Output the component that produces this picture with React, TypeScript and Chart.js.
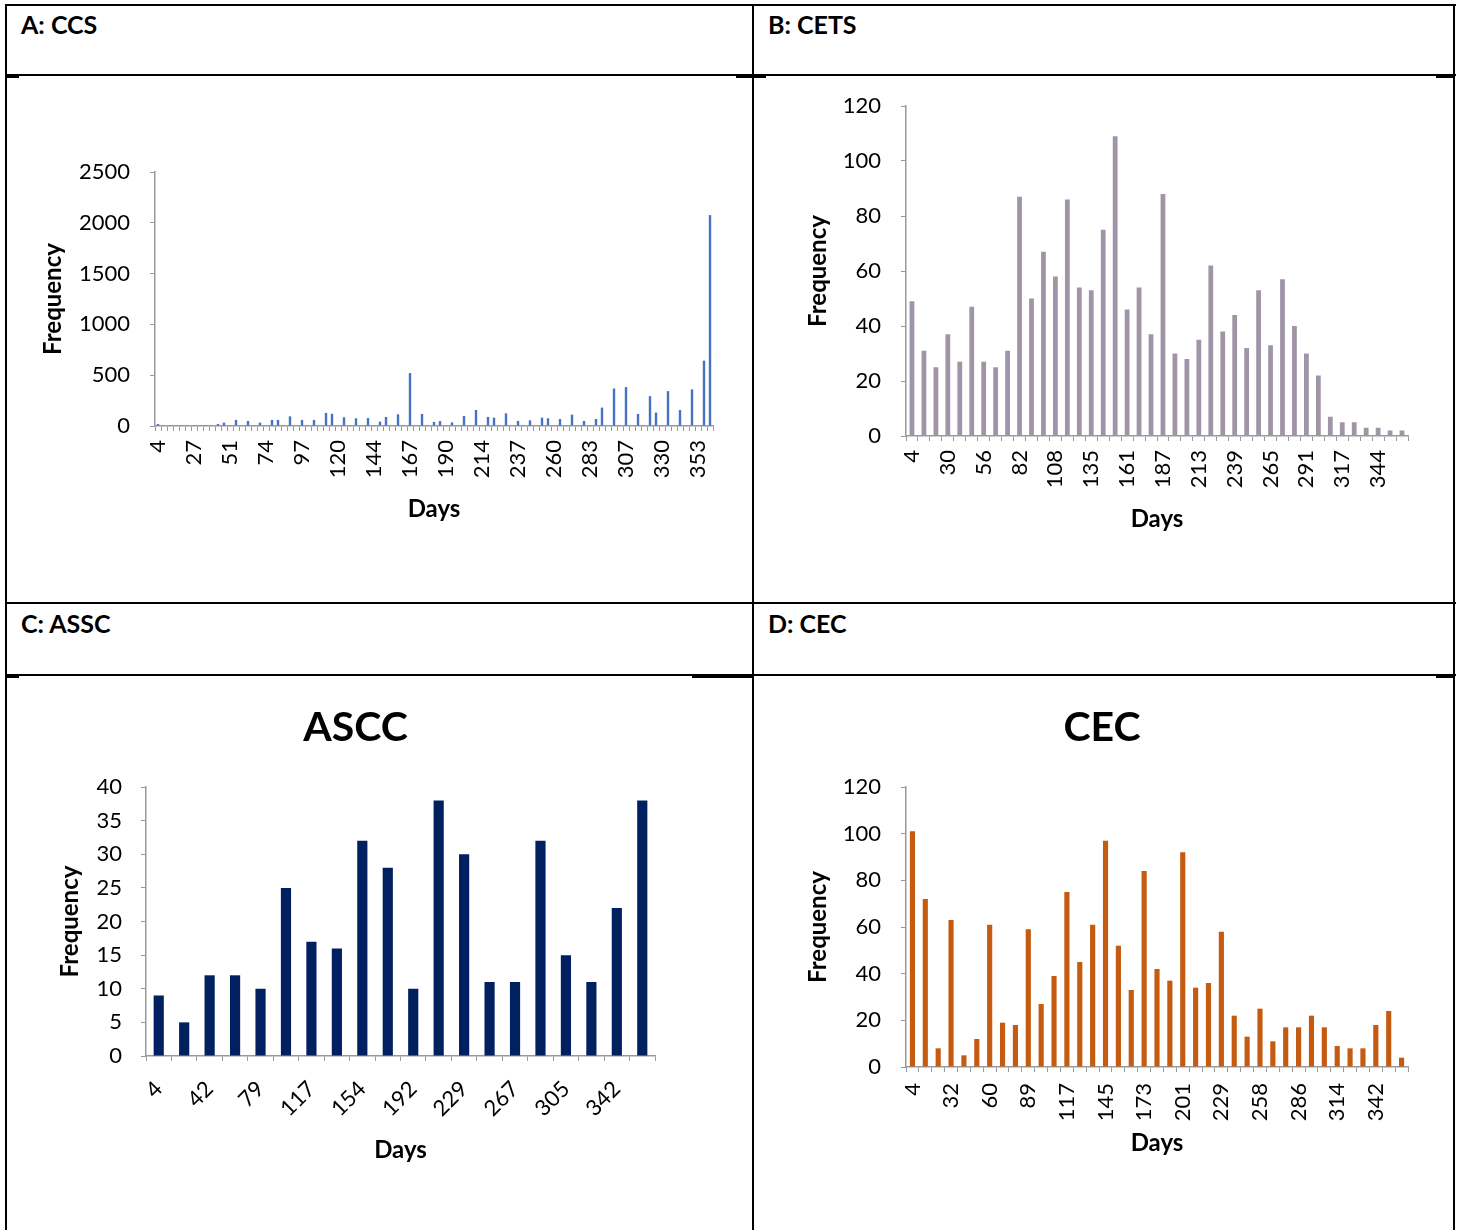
import React, { useEffect, useRef } from 'react';
import { Chart, registerables } from 'chart.js';

Chart.register(...registerables);

const FONT = 'Lato, "Open Sans", sans-serif';
const AXIS = '#999999';

// ---------- Panel A: CCS ----------
const ccsDays = [
  4, 8, 12, 16, 20, 23, 27, 31, 35, 39, 43, 47, 51, 54, 58, 62, 66, 70, 74, 78,
  82, 85, 89, 93, 97, 101, 105, 109, 113, 117, 120, 124, 128, 132, 136, 140, 144, 148, 151, 155,
  159, 163, 167, 171, 175, 179, 182, 186, 190, 194, 198, 202, 206, 210, 214, 217, 221, 225, 229, 233,
  237, 241, 245, 248, 252, 256, 260, 264, 268, 272, 276, 279, 283, 287, 291, 295, 299, 303, 307, 311,
  314, 318, 322, 326, 330, 334, 338, 342, 345, 349, 353, 357, 361,
];
const ccsFreq = [
  20, 0, 8, 0, 8, 0, 8, 0, 10, 0, 20, 33, 0, 60, 0, 50, 0, 33, 0, 60,
  60, 0, 95, 0, 60, 0, 60, 0, 129, 120, 0, 86, 0, 76, 0, 79, 0, 43, 89, 0,
  115, 0, 521, 0, 119, 0, 40, 48, 0, 36, 0, 99, 0, 158, 0, 89, 82, 0, 125, 0,
  50, 0, 56, 0, 82, 76, 0, 69, 0, 112, 0, 50, 0, 69, 181, 0, 369, 0, 383, 0,
  119, 0, 294, 132, 0, 343, 0, 158, 0, 360, 0, 643, 2076,
];

// ---------- Panel B: CETS ----------
const cetsDays = [
  4, 13, 21, 30, 39, 48, 56, 65, 74, 82, 91, 100, 108, 117, 126, 135, 143, 152, 161, 170,
  178, 187, 196, 204, 213, 222, 230, 239, 248, 256, 265, 274, 283, 291, 300, 309, 317, 326, 335, 344,
  352, 361,
];
const cetsFreq = [
  49, 31, 25, 37, 27, 47, 27, 25, 31, 87, 50, 67, 58, 86, 54, 53, 75, 109, 46, 54,
  37, 88, 30, 28, 35, 62, 38, 44, 32, 53, 33, 57, 40, 30, 22, 7, 5, 5, 3, 3,
  2, 2,
];

// ---------- Panel C: ASCC ----------
const asccDays = [4, 23, 42, 60, 79, 98, 117, 135, 154, 173, 192, 211, 229, 248, 267, 286, 305, 323, 342, 361];
const asccFreq = [9, 5, 12, 12, 10, 25, 17, 16, 32, 28, 10, 38, 30, 11, 11, 32, 15, 11, 22, 38];

// ---------- Panel D: CEC ----------
const cecDays = [
  4, 13, 23, 32, 42, 51, 60, 70, 79, 89, 98, 107, 117, 126, 135, 145, 154, 164, 173, 182,
  192, 201, 211, 220, 229, 239, 248, 258, 267, 276, 286, 295, 304, 314, 323, 333, 342, 351, 361,
];
const cecFreq = [
  101, 72, 8, 63, 5, 12, 61, 19, 18, 59, 27, 39, 75, 45, 61, 97, 52, 33, 84, 42,
  37, 92, 34, 36, 58, 22, 13, 25, 11, 17, 17, 22, 17, 9, 8, 8, 18, 24, 4,
];

type PanelProps = {
  left: number;
  top: number;
  width: number;
  height: number;
  labels: number[];
  values: number[];
  color: string;
  yMax: number;
  yStep: number;
  labelEvery: number;
  rotation: number;
  yAxisWidth: number;
  xAxisHeight: number;
  padTop: number;
  padRight: number;
  padLeft: number;
  yTitlePad: number;
  xTitlePad: number;
  yTickPad: number;
  xTickPad: number;
  title?: string;
  titlePadTop?: number;
  titlePadBottom?: number;
};

function BarPanel(p: PanelProps) {
  const ref = useRef<HTMLCanvasElement>(null);
  useEffect(() => {
    const tickFont = { family: FONT, size: 22 };
    const titleFont = { family: FONT, size: 24, weight: 'bold' as const };
    const chart = new Chart(ref.current!, {
      type: 'bar',
      data: {
        labels: p.labels.map(String),
        datasets: [
          {
            data: p.values,
            backgroundColor: p.color,
            borderWidth: 0,
            barPercentage: 0.4,
            categoryPercentage: 1,
          },
        ],
      },
      options: {
        responsive: false,
        animation: false,
        devicePixelRatio: 1,
        layout: { padding: { top: p.padTop, right: p.padRight, left: p.padLeft, bottom: 0 } },
        plugins: {
          legend: { display: false },
          tooltip: { enabled: false },
          title: {
            display: !!p.title,
            text: p.title || '',
            color: '#000',
            font: { family: FONT, size: 41, weight: 'bold' },
            padding: { top: p.titlePadTop || 0, bottom: p.titlePadBottom || 0 },
          },
        },
        scales: {
          x: {
            type: 'category',
            offset: true,
            grid: {
              display: true,
              drawOnChartArea: false,
              drawTicks: true,
              tickLength: 5,
              color: AXIS,
              offset: true,
              lineWidth: 1,
            },
            border: { display: true, color: AXIS, width: 1.5 },
            ticks: {
              autoSkip: false,
              minRotation: p.rotation,
              maxRotation: p.rotation,
              padding: p.xTickPad,
              color: '#000',
              font: tickFont,
              callback: (_v: any, i: number) => (i % p.labelEvery === 0 ? String(p.labels[i]) : ''),
            },
            title: {
              display: true,
              text: 'Days',
              color: '#000',
              font: titleFont,
              padding: { top: 0, bottom: p.xTitlePad },
            },
            afterFit: (s: any) => {
              s.height = p.xAxisHeight;
            },
          },
          y: {
            min: 0,
            max: p.yMax,
            grid: {
              display: true,
              drawOnChartArea: false,
              drawTicks: true,
              tickLength: 5,
              color: AXIS,
              lineWidth: 1,
            },
            border: { display: true, color: AXIS, width: 1.5 },
            ticks: {
              stepSize: p.yStep,
              padding: p.yTickPad,
              color: '#000',
              font: tickFont,
              callback: (v: any) => String(v),
            },
            title: {
              display: true,
              text: 'Frequency',
              color: '#000',
              font: titleFont,
              padding: { top: p.yTitlePad, bottom: 0 },
            },
            afterFit: (s: any) => {
              s.width = p.yAxisWidth;
            },
          },
        },
      },
    });
    return () => chart.destroy();
  }, []);
  return (
    <canvas
      ref={ref}
      width={p.width}
      height={p.height}
      style={{ position: 'absolute', left: p.left, top: p.top, width: p.width, height: p.height }}
    />
  );
}

const line = (x: number, y: number, w: number, h: number) => (
  <div style={{ position: 'absolute', left: x, top: y, width: w, height: h, background: '#000' }} />
);

const headerStyle: React.CSSProperties = {
  position: 'absolute',
  fontFamily: FONT,
  fontWeight: 'bold',
  fontSize: 25,
  lineHeight: '30px',
  color: '#000',
  whiteSpace: 'nowrap',
};

export default function App() {
  return (
    <div
      style={{
        position: 'absolute',
        left: 0,
        top: 0,
        width: 1461,
        height: 1230,
        overflow: 'hidden',
        background: '#fff',
      }}
    >
      {/* table lines */}
      {line(5, 4, 1451, 2)}
      {line(5, 4, 2, 1226)}
      {line(1453, 4, 2, 1226)}
      {line(752, 4, 2, 1226)}
      {line(5, 74, 1451, 2)}
      {line(5, 602, 1451, 2)}
      {line(5, 674, 1451, 2)}
      {line(7, 76, 12, 2)}
      {line(736, 76, 30, 2)}
      {line(1436, 76, 18, 2)}
      {line(7, 676, 12, 2)}
      {line(692, 676, 61, 2)}
      {line(1436, 676, 18, 2)}

      <div style={{ ...headerStyle, left: 21, top: 9 }}>A: CCS</div>
      <div style={{ ...headerStyle, left: 768, top: 9 }}>B: CETS</div>
      <div style={{ ...headerStyle, left: 21, top: 608 }}>C: ASSC</div>
      <div style={{ ...headerStyle, left: 768, top: 608 }}>D: CEC</div>

      <BarPanel
        left={8}
        top={77}
        width={744}
        height={525}
        labels={ccsDays}
        values={ccsFreq}
        color="#4472C4"
        yMax={2500}
        yStep={500}
        labelEvery={6}
        rotation={90}
        yAxisWidth={147}
        xAxisHeight={176}
        padTop={95}
        padRight={39}
        padLeft={0}
        yTitlePad={30.6}
        xTitlePad={78.6}
        yTickPad={20}
        xTickPad={9}
      />
      <BarPanel
        left={755}
        top={72}
        width={698}
        height={530}
        labels={cetsDays}
        values={cetsFreq}
        color="#A094A7"
        yMax={120}
        yStep={20}
        labelEvery={3}
        rotation={90}
        yAxisWidth={151}
        xAxisHeight={166}
        padTop={34}
        padRight={45}
        padLeft={0}
        yTitlePad={48.6}
        xTitlePad={68.6}
        yTickPad={20}
        xTickPad={9}
      />
      <BarPanel
        left={8}
        top={678}
        width={696}
        height={552}
        labels={asccDays}
        values={asccFreq}
        color="#002060"
        yMax={40}
        yStep={5}
        labelEvery={2}
        rotation={45}
        yAxisWidth={90}
        xAxisHeight={174}
        padTop={0}
        padRight={49}
        padLeft={48}
        yTitlePad={0}
        xTitlePad={65.6}
        yTickPad={19}
        xTickPad={15}
        title="ASCC"
        titlePadTop={25}
        titlePadBottom={34.8}
      />
      <BarPanel
        left={755}
        top={678}
        width={694}
        height={552}
        labels={cecDays}
        values={cecFreq}
        color="#C55A11"
        yMax={120}
        yStep={20}
        labelEvery={3}
        rotation={90}
        yAxisWidth={110}
        xAxisHeight={163}
        padTop={0}
        padRight={41}
        padLeft={41}
        yTitlePad={7.6}
        xTitlePad={72.6}
        yTickPad={20}
        xTickPad={11}
        title="CEC"
        titlePadTop={25}
        titlePadBottom={34.8}
      />
    </div>
  );
}
